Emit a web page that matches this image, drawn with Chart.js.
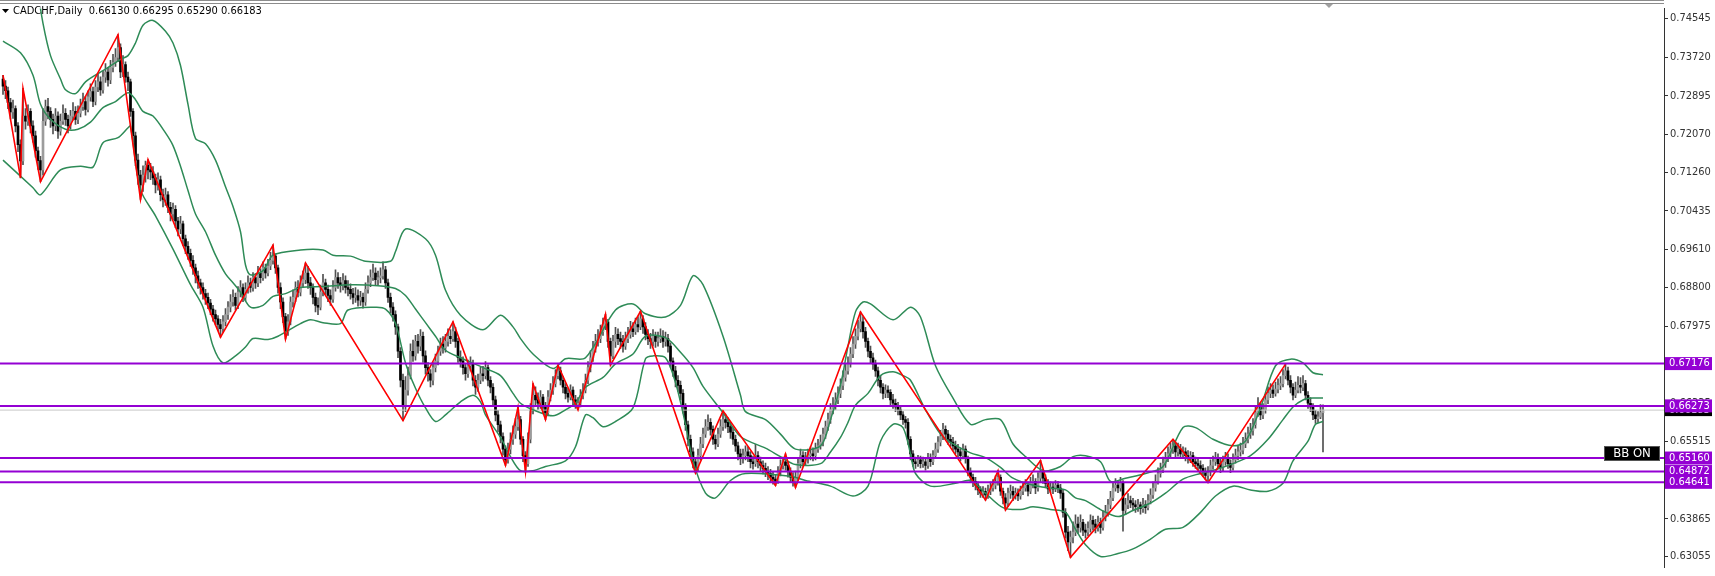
<!DOCTYPE html>
<html>
<head>
<meta charset="utf-8">
<script src="https://cdn.jsdelivr.net/npm/chart.js@4.4.1/dist/chart.umd.min.js"></script>
<style>
html, body { margin: 0; padding: 0; background: #fff; }
#wrap { width: 1715px; height: 576px; position: relative; }
</style>
</head>
<body>
<div id="wrap"><canvas id="chart"></canvas></div>
<script>
// CADCHF daily candles, prices in 1/10000 (bar 0 = leftmost)
const opens = [
  7325,7310,7300,7275,7255,7262,7225,7185,7150,7246, 7235,7256,7225,7204,7172,7151,7131,7235,7266,7256,
  7239,7225,7246,7214,7235,7252,7239,7225,7246,7256, 7239,7252,7266,7277,7260,7287,7298,7277,7308,7319,
  7302,7329,7340,7323,7350,7360,7371,7392,7340,7356, 7329,7319,7256,7204,7152,7120,7099,7120,7141,7131,
  7127,7114,7099,7110,7078,7068,7078,7051,7037,7047, 7022,7005,7016,6984,6968,6953,6938,6922,6905,6890,
  6880,6867,6859,6847,6834,6822,6813,6801,6792,6807, 6822,6838,6849,6859,6842,6870,6880,6859,6876,6890,
  6880,6901,6890,6911,6901,6922,6911,6926,6938,6947, 6922,6880,6849,6818,6786,6807,6849,6859,6880,6870,
  6890,6897,6911,6890,6880,6859,6842,6838,6870,6890, 6876,6863,6855,6880,6901,6890,6884,6895,6880,6876,
  6867,6859,6863,6853,6859,6849,6876,6890,6901,6911, 6897,6901,6905,6918,6890,6859,6838,6822,6796,6744,
  6682,6629,6661,6692,6744,6734,6765,6755,6776,6734, 6709,6696,6682,6709,6723,6744,6759,6751,6765,6776,
  6771,6786,6765,6730,6723,6709,6696,6713,6717,6682, 6667,6682,6696,6692,6709,6682,6667,6640,6608,6587,
  6562,6535,6512,6535,6556,6567,6583,6598,6556,6521, 6504,6556,6619,6650,6640,6633,6646,6625,6613,6646,
  6661,6675,6692,6702,6682,6667,6654,6646,6661,6640, 6629,6633,6650,6661,6682,6709,6730,6751,6765,6771,
  6786,6801,6807,6765,6734,6765,6780,6771,6765,6755, 6771,6780,6792,6786,6801,6796,6813,6796,6780,6771,
  6765,6776,6765,6771,6776,6765,6771,6755,6723,6702, 6682,6671,6654,6625,6587,6556,6529,6508,6494,6521,
  6546,6567,6583,6592,6577,6556,6546,6567,6583,6598, 6592,6583,6571,6556,6542,6525,6515,6521,6529,6521,
  6508,6504,6521,6508,6500,6494,6487,6483,6475,6471, 6466,6487,6500,6508,6500,6487,6475,6466,6475,6504,
  6521,6508,6515,6521,6525,6521,6535,6542,6550,6567, 6583,6598,6619,6629,6640,6654,6671,6688,6702,6717,
  6738,6759,6776,6792,6807,6786,6765,6744,6730,6717, 6702,6682,6667,6654,6661,6656,6640,6633,6625,6619,
  6608,6598,6592,6556,6525,6508,6504,6512,6504,6508, 6500,6515,6508,6521,6535,6550,6562,6577,6567,6556,
  6550,6542,6535,6529,6521,6535,6515,6487,6475,6466, 6458,6448,6441,6445,6437,6445,6452,6458,6466,6475,
  6445,6431,6420,6441,6445,6437,6441,6435,6445,6452, 6458,6445,6462,6466,6452,6473,6487,6473,6462,6450,
  6454,6450,6458,6452,6441,6400,6358,6337,6347,6358, 6375,6368,6379,6362,6358,6366,6383,6375,6368,6379,
  6368,6389,6400,6416,6431,6452,6458,6452,6462,6404, 6416,6425,6420,6416,6412,6416,6408,6416,6410,6425,
  6437,6452,6466,6483,6491,6504,6515,6525,6535,6542, 6529,6535,6525,6529,6521,6515,6521,6508,6504,6500,
  6494,6487,6479,6487,6500,6508,6515,6504,6496,6508, 6515,6504,6496,6512,6521,6529,6533,6546,6556,6567,
  6575,6587,6613,6625,6608,6619,6640,6654,6661,6654, 6663,6671,6675,6692,6702,6682,6667,6650,6661,6671,
  6667,6675,6650,6633,6625,6608,6600,6604,6613
];
const highs = [
  7333,7322,7308,7284,7280,7268,7232,7195,7305,7262, 7270,7262,7236,7214,7180,7160,7262,7280,7284,7264,
  7250,7262,7255,7250,7270,7262,7248,7258,7275,7266, 7268,7282,7295,7288,7300,7315,7308,7322,7335,7330,
  7342,7358,7350,7365,7378,7390,7420,7400,7375,7362, 7340,7325,7262,7212,7165,7130,7140,7150,7153,7145,
  7138,7122,7125,7118,7090,7092,7085,7062,7060,7055, 7030,7032,7022,6992,6978,6962,6948,6930,6915,6898,
  6890,6876,6868,6855,6842,6832,6820,6812,6820,6835, 6850,6865,6875,6868,6882,6895,6888,6890,6905,6900,
  6912,6910,6925,6920,6935,6930,6940,6955,6971,6952, 6928,6890,6858,6825,6822,6860,6875,6892,6895,6905,
  6915,6932,6925,6902,6888,6868,6858,6885,6908,6898, 6885,6875,6895,6918,6912,6902,6910,6905,6895,6888,
  6878,6880,6875,6872,6868,6890,6905,6918,6930,6922, 6915,6922,6935,6925,6898,6868,6848,6830,6802,6752,
  6695,6690,6710,6760,6768,6778,6780,6790,6785,6745, 6720,6705,6720,6738,6755,6772,6775,6780,6792,6790,
  6807,6795,6772,6745,6732,6718,6725,6732,6725,6692, 6695,6710,6712,6722,6715,6690,6675,6648,6618,6595,
  6570,6542,6548,6570,6585,6600,6625,6605,6562,6530, 6570,6632,6675,6668,6655,6660,6652,6635,6660,6675,
  6690,6705,6714,6710,6690,6675,6665,6672,6668,6650, 6645,6662,6675,6695,6722,6745,6765,6780,6790,6800,
  6815,6823,6812,6772,6778,6795,6792,6785,6778,6785, 6795,6808,6805,6815,6818,6829,6820,6805,6790,6782,
  6790,6785,6785,6792,6788,6785,6780,6762,6730,6712, 6692,6680,6662,6632,6595,6565,6538,6515,6535,6560,
  6580,6598,6608,6600,6585,6565,6580,6598,6617,6610, 6602,6592,6580,6565,6550,6535,6535,6542,6540,6530,
  6520,6545,6530,6518,6510,6505,6498,6492,6486,6480, 6498,6512,6518,6525,6508,6495,6485,6488,6515,6535,
  6530,6528,6535,6540,6538,6548,6556,6565,6580,6595, 6612,6632,6645,6655,6668,6685,6702,6718,6732,6752,
  6775,6792,6810,6828,6818,6795,6772,6755,6740,6725, 6710,6692,6675,6672,6670,6662,6652,6642,6635,6628,
  6615,6605,6600,6562,6532,6518,6522,6520,6518,6515, 6526,6525,6532,6548,6562,6575,6590,6585,6575,6565,
  6560,6552,6545,6538,6546,6542,6520,6495,6482,6475, 6465,6455,6455,6452,6458,6465,6470,6478,6489,6480,
  6452,6440,6452,6458,6455,6452,6450,6456,6462,6470, 6465,6475,6480,6472,6485,6511,6492,6480,6470,6465,
  6462,6468,6466,6460,6448,6408,6370,6360,6380,6395, 6390,6395,6385,6375,6380,6395,6392,6385,6392,6388,
  6402,6415,6428,6445,6465,6472,6468,6475,6468,6430, 6440,6435,6430,6425,6428,6422,6430,6425,6438,6450,
  6465,6480,6495,6505,6518,6528,6540,6548,6556,6550, 6548,6545,6540,6538,6532,6530,6528,6518,6515,6510,
  6502,6495,6498,6512,6520,6528,6525,6515,6520,6528, 6525,6512,6525,6535,6542,6548,6560,6570,6582,6590,
  6600,6628,6645,6635,6632,6652,6668,6675,6672,6678, 6685,6690,6705,6716,6710,6692,6675,6678,6690,6688,
  6692,6682,6658,6645,6632,6618,6615,6630,6629.5
];
const lows = [
  7292,7283,7262,7240,7241,7212,7170,7114,7142,7218, 7226,7210,7190,7158,7132,7106,7120,7226,7240,7222,
  7208,7215,7198,7205,7228,7226,7210,7218,7238,7228, 7230,7244,7258,7248,7255,7278,7266,7270,7298,7290,
  7295,7318,7310,7315,7340,7352,7362,7328,7330,7318, 7300,7245,7190,7140,7100,7068,7085,7105,7112,7110,
  7100,7082,7088,7065,7052,7055,7040,7022,7025,7008, 6990,6995,6970,6952,6940,6925,6908,6890,6878,6866,
  6855,6844,6835,6822,6808,6800,6788,6774,6784,6798, 6812,6828,6840,6832,6835,6860,6850,6852,6868,6870,
  6872,6878,6882,6890,6895,6900,6905,6918,6930,6910, 6868,6835,6805,6770,6778,6800,6838,6850,6860,6862,
  6880,6888,6878,6865,6845,6828,6822,6832,6862,6865, 6850,6842,6848,6872,6878,6870,6875,6868,6862,6855,
  6845,6848,6840,6842,6836,6842,6868,6882,6895,6885, 6886,6890,6898,6878,6848,6826,6808,6780,6730,6668,
  6596,6615,6650,6685,6722,6725,6740,6745,6720,6695, 6680,6668,6672,6700,6715,6735,6740,6742,6755,6760,
  6765,6752,6720,6710,6695,6682,6688,6702,6670,6652, 6658,6675,6680,6685,6670,6655,6628,6595,6572,6548,
  6522,6500,6505,6525,6545,6558,6575,6545,6508,6487, 6498,6548,6610,6628,6620,6622,6612,6598,6606,6638,
  6652,6668,6685,6672,6655,6642,6635,6640,6630,6622, 6619,6625,6642,6655,6675,6700,6722,6742,6755,6762,
  6778,6790,6752,6714,6728,6752,6758,6750,6742,6748, 6762,6772,6775,6780,6785,6790,6782,6768,6758,6750,
  6755,6752,6755,6762,6752,6755,6742,6710,6690,6668, 6658,6640,6612,6575,6542,6515,6495,6484,6488,6512,
  6538,6560,6575,6565,6545,6535,6540,6560,6575,6580, 6570,6558,6545,6530,6512,6502,6505,6512,6508,6495,
  6492,6498,6495,6488,6482,6476,6470,6464,6460,6457, 6462,6478,6492,6490,6475,6465,6456,6453,6468,6495,
  6498,6500,6505,6512,6510,6512,6528,6535,6542,6558, 6575,6590,6610,6620,6632,6645,6662,6680,6695,6710,
  6730,6750,6768,6785,6772,6752,6732,6718,6705,6690, 6670,6655,6642,6645,6645,6630,6622,6615,6608,6598,
  6588,6580,6545,6512,6498,6494,6498,6495,6496,6490, 6494,6498,6502,6515,6528,6542,6555,6555,6545,6540,
  6532,6525,6518,6510,6514,6505,6478,6465,6455,6448, 6438,6432,6432,6426,6430,6438,6445,6450,6458,6436,
  6418,6405,6412,6430,6425,6428,6425,6428,6438,6445, 6435,6440,6452,6440,6445,6465,6462,6452,6440,6442,
  6440,6444,6442,6430,6390,6345,6318,6304,6335,6350, 6355,6358,6350,6345,6350,6358,6362,6356,6360,6355,
  6362,6382,6392,6408,6425,6445,6442,6445,6360,6395, 6408,6410,6405,6400,6402,6396,6400,6398,6405,6418,
  6430,6445,6460,6475,6485,6496,6508,6518,6526,6518, 6520,6515,6515,6510,6505,6506,6498,6494,6490,6484,
  6476,6470,6464,6478,6492,6500,6495,6485,6488,6500, 6494,6485,6490,6505,6512,6520,6525,6538,6548,6558,
  6565,6580,6605,6598,6600,6612,6632,6645,6645,6648, 6655,6662,6668,6685,6672,6655,6640,6645,6655,6655,
  6660,6640,6622,6615,6598,6590,6592,6600,6529
];
const closes = [
  7310,7300,7275,7255,7262,7225,7185,7150,7246,7235, 7256,7225,7204,7172,7151,7131,7235,7266,7256,7239,
  7225,7246,7214,7235,7252,7239,7225,7246,7256,7239, 7252,7266,7277,7260,7287,7298,7277,7308,7319,7302,
  7329,7340,7323,7350,7360,7371,7392,7340,7356,7329, 7319,7256,7204,7152,7120,7099,7120,7141,7131,7127,
  7114,7099,7110,7078,7068,7078,7051,7037,7047,7022, 7005,7016,6984,6968,6953,6938,6922,6905,6890,6880,
  6867,6859,6847,6834,6822,6813,6801,6792,6807,6822, 6838,6849,6859,6842,6870,6880,6859,6876,6890,6880,
  6901,6890,6911,6901,6922,6911,6926,6938,6947,6922, 6880,6849,6818,6786,6807,6849,6859,6880,6870,6890,
  6897,6911,6890,6880,6859,6842,6838,6870,6890,6876, 6863,6855,6880,6901,6890,6884,6895,6880,6876,6867,
  6859,6863,6853,6859,6849,6876,6890,6901,6911,6897, 6901,6905,6918,6890,6859,6838,6822,6796,6744,6682,
  6629,6661,6692,6744,6734,6765,6755,6776,6734,6709, 6696,6682,6709,6723,6744,6759,6751,6765,6776,6771,
  6786,6765,6730,6723,6709,6696,6713,6717,6682,6667, 6682,6696,6692,6709,6682,6667,6640,6608,6587,6562,
  6535,6512,6535,6556,6567,6583,6598,6556,6521,6504, 6556,6619,6650,6640,6633,6646,6625,6613,6646,6661,
  6675,6692,6702,6682,6667,6654,6646,6661,6640,6629, 6633,6650,6661,6682,6709,6730,6751,6765,6771,6786,
  6801,6807,6765,6734,6765,6780,6771,6765,6755,6771, 6780,6792,6786,6801,6796,6813,6796,6780,6771,6765,
  6776,6765,6771,6776,6765,6771,6755,6723,6702,6682, 6671,6654,6625,6587,6556,6529,6508,6494,6521,6546,
  6567,6583,6592,6577,6556,6546,6567,6583,6598,6592, 6583,6571,6556,6542,6525,6515,6521,6529,6521,6508,
  6504,6521,6508,6500,6494,6487,6483,6475,6471,6466, 6487,6500,6508,6500,6487,6475,6466,6475,6504,6521,
  6508,6515,6521,6525,6521,6535,6542,6550,6567,6583, 6598,6619,6629,6640,6654,6671,6688,6702,6717,6738,
  6759,6776,6792,6807,6786,6765,6744,6730,6717,6702, 6682,6667,6654,6661,6656,6640,6633,6625,6619,6608,
  6598,6592,6556,6525,6508,6504,6512,6504,6508,6500, 6515,6508,6521,6535,6550,6562,6577,6567,6556,6550,
  6542,6535,6529,6521,6535,6515,6487,6475,6466,6458, 6448,6441,6445,6437,6445,6452,6458,6466,6475,6445,
  6431,6420,6441,6445,6437,6441,6435,6445,6452,6458, 6445,6462,6466,6452,6473,6487,6473,6462,6450,6454,
  6450,6458,6452,6441,6400,6358,6337,6347,6358,6375, 6368,6379,6362,6358,6366,6383,6375,6368,6379,6368,
  6389,6400,6416,6431,6452,6458,6452,6462,6404,6416, 6425,6420,6416,6412,6416,6408,6416,6410,6425,6437,
  6452,6466,6483,6491,6504,6515,6525,6535,6542,6529, 6535,6525,6529,6521,6515,6521,6508,6504,6500,6494,
  6487,6479,6487,6500,6508,6515,6504,6496,6508,6515, 6504,6496,6512,6521,6529,6533,6546,6556,6567,6575,
  6587,6613,6625,6608,6619,6640,6654,6661,6654,6663, 6671,6675,6692,6702,6682,6667,6650,6661,6671,6667,
  6675,6650,6633,6625,6608,6600,6604,6613,6618.3
];

// Bollinger bands (20, 2) read at selected bars
const bbUpperBars = [0,7,12,16,19,23,25,29,33,39, 41,47,50,53,56,60,65,68,71,74, 77,81,85,89,92,95,97,99,104,108,
  119,128,132,139,145,155,157,161,169,173, 177,183,192,199,204,207,212,220,225,233, 245,252,257,265,271,276,280,288,295,297,
  305,311,317,327,331,335,338,341,344,347, 356,363,367,373,380,387,393,399,404,409, 416,423,428,433,439,443,449,457,464,472,
  477,484,492,497,503,509,515,520,524,528];
const bbUpper = [7661,7653,7569,7444,7375,7325,7302,7294,7319,7340, 7346,7367,7375,7402,7440,7450,7427,7402,7354,7271,
  7198,7187,7152,7095,7053,6999,6928,6907,6916,6949, 6960,6960,6949,6947,6936,6936,6957,7005,6984,6949,
  6874,6821,6790,6821,6796,6771,6738,6707,6728,6730, 6832,6845,6824,6817,6842,6905,6886,6776,6650,6615,
  6598,6567,6535,6542,6598,6671,6755,6828,6849,6845, 6811,6838,6817,6713,6644,6588,6598,6598,6546,6519,
  6489,6498,6519,6521,6508,6466,6473,6483,6498,6581, 6581,6556,6542,6552,6623,6713,6727,6719,6698,6694];
const bbMiddleBars = [0,7,12,15,19,25,30,35,40,45, 50,53,56,60,65,68,71,74,77,81, 85,89,92,95,99,104,108,113,119,128,
  139,150,157,161,165,169,173,177,183,192, 199,204,207,212,220,225,229,233,240,245, 252,257,265,271,276,280,288,295,305,311,
  317,327,331,335,338,341,346,351,356,360, 363,369,375,380,387,393,399,404,412,419, 425,429,433,439,446,452,459,465,472,479,
  485,492,499,506,512,516,520,524,528];
const bbMiddle = [7406,7381,7333,7271,7239,7218,7218,7233,7264,7277, 7296,7281,7256,7246,7210,7183,7139,7087,7037,6999,
  6949,6909,6890,6870,6838,6842,6861,6867,6880,6882, 6886,6884,6878,6863,6834,6805,6776,6746,6730,6709,
  6692,6654,6633,6619,6606,6619,6633,6667,6688,6717, 6738,6776,6773,6742,6709,6669,6613,6562,6537,6519,
  6502,6504,6529,6560,6592,6629,6654,6692,6700,6692, 6682,6619,6567,6546,6527,6517,6496,6473,6458,6452,
  6448,6431,6425,6406,6391,6404,6420,6441,6471,6483, 6491,6504,6521,6556,6598,6625,6640,6644,6644];
const bbLowerBars = [0,12,15,23,31,36,40,46,50,51, 55,61,68,75,80,84,88,93,97,100, 106,110,119,123,128,135,138,149,153,157,
  161,165,169,173,177,183,188,191,193,199, 203,207,212,217,225,229,233,236,240,245, 252,257,260,265,269,273,276,281,285,291,
  297,315,321,331,340,346,351,356,360,363, 365,371,381,387,393,400,407,412,419,425, 429,433,439,446,452,459,465,472,479,485,
  492,499,506,512,516,522,525,528];
const bbLower = [7152,7093,7078,7131,7139,7137,7189,7200,7221,7225, 7089,7033,6962,6886,6838,6755,6719,6734,6753,6771,
  6769,6776,6803,6811,6805,6803,6832,6838,6834,6803, 6719,6665,6623,6594,6608,6636,6650,6636,6608,6560,
  6519,6489,6489,6498,6510,6540,6608,6602,6583,6594, 6623,6728,6734,6730,6677,6588,6510,6441,6431,6468,
  6483,6477,6468,6456,6435,6456,6552,6588,6581,6525, 6483,6456,6462,6468,6441,6410,6406,6412,6406,6400,
  6364,6331,6306,6312,6322,6343,6364,6368,6400,6435, 6456,6448,6445,6462,6510,6552,6588,6594];

// zigzag pivots (bar index, price)
const zzBars = [0, 7, 8, 15, 46, 55, 58, 87, 108, 113, 121, 160, 180, 201, 206, 209, 212, 217, 222, 230,
  241, 243, 255, 277, 288, 309, 313, 317, 343, 393, 398, 401, 415, 427, 468, 482, 513];
const zzPrices = [0.73333, 0.71140, 0.73047, 0.71062, 0.74196, 0.70680, 0.71530, 0.67741, 0.69705, 0.67699,
  0.69322, 0.65959, 0.68069, 0.65004, 0.66245, 0.64866, 0.66746, 0.65980, 0.67143, 0.66189,
  0.68230, 0.67143, 0.68292, 0.64841, 0.66168, 0.64574, 0.65249, 0.64532, 0.68278, 0.64260,
  0.64887, 0.64051, 0.65108, 0.63040, 0.65562, 0.64636, 0.67164];

// price axis labels (right side)
const tickValues = [0.74545, 0.73720, 0.72895, 0.72070, 0.71260, 0.70435, 0.69610, 0.68800,
  0.67975, 0.67150, 0.66335, 0.65515, 0.64690, 0.63865, 0.63055];

// horizontal levels
const levelValues = [0.67176, 0.66273, 0.65160, 0.64872, 0.64641];
const bidPrice = 0.66183;
const titleText = "CADCHF,Daily  0.66130 0.66295 0.65290 0.66183";

const xMin = -1.2, xMax = 664.4;
const yMin = 0.628253, yMax = 0.747539;

const toPrice = v => v / 10000;
const barIdx = closes.map((c, i) => i);
const bandLine = (bars, vals) => ({
  data: bars.map((b, i) => ({ x: b, y: toPrice(vals[i]) })),
  borderColor: "#2e8b57",
  borderWidth: 1.5,
  pointRadius: 0,
  tension: 0.3,
  order: 2
});

const levelSets = levelValues.map(v => ({
  data: [{ x: xMin, y: v }, { x: xMax, y: v }],
  borderColor: "#9400d3",
  borderWidth: 2,
  pointRadius: 0,
  order: 0
}));

const overlay = {
  id: "overlay",
  afterDraw(chart) {
    const c = chart.ctx;
    const ys = chart.scales.y;
    const area = chart.chartArea;
    c.save();
    // top frame
    c.fillStyle = "#8c8c8c";
    c.fillRect(0, 0, area.right, 1);
    c.fillRect(0, 3, area.right, 1);
    // shift marker
    c.fillStyle = "#a0a0a0";
    c.beginPath();
    c.moveTo(1325, 4); c.lineTo(1333, 4); c.lineTo(1329, 8); c.closePath(); c.fill();
    // title
    c.fillStyle = "#000";
    c.beginPath();
    c.moveTo(2, 9); c.lineTo(9, 9); c.lineTo(5.5, 13); c.closePath(); c.fill();
    c.font = "11px 'DejaVu Sans Condensed', 'Liberation Sans', sans-serif";
    c.textBaseline = "middle";
    c.fillText(titleText, 13, 11);

    // bid label
    let y = ys.getPixelForValue(bidPrice);
    c.fillStyle = "#000";
    c.fillRect(area.right + 1, y - 6, 47, 12);
    c.fillStyle = "#fff";
    c.fillText(bidPrice.toFixed(5), area.right + 5, y);
    // level labels
    levelValues.forEach(v => {
      const py = ys.getPixelForValue(v);
      c.fillStyle = "#9400d3";
      c.fillRect(area.right + 1, py - 6.5, 47, 13);
      c.fillStyle = "#fff";
      c.fillText(v.toFixed(5), area.right + 5, py);
    });
    // BB ON
    c.fillStyle = "#000";
    c.fillRect(1604, 446, 56, 15);
    c.strokeStyle = "#555";
    c.strokeRect(1604.5, 446.5, 55, 14);
    c.fillStyle = "#fff";
    c.font = "13px 'DejaVu Sans Condensed', 'Liberation Sans', sans-serif";
    c.textAlign = "center";
    c.fillText("BB ON", 1632, 454);
    c.restore();
  }
};

new Chart(document.getElementById("chart"), {
  type: "line",
  data: {
    datasets: [
      ...levelSets,
      {
        data: zzBars.map((b, i) => ({ x: b, y: zzPrices[i] })),
        borderColor: "#ff0000",
        borderWidth: 1.6,
        pointRadius: 0,
        order: 1
      },
      bandLine(bbUpperBars, bbUpper),
      bandLine(bbMiddleBars, bbMiddle),
      bandLine(bbLowerBars, bbLower),
      {
        data: [{ x: xMin, y: bidPrice }, { x: xMax, y: bidPrice }],
        borderColor: "#c8c8c8",
        borderWidth: 1,
        pointRadius: 0,
        order: 3
      },
      {
        type: "bar",
        data: barIdx.map(i => ({ x: i, y: [toPrice(opens[i]), toPrice(closes[i])] })),
        backgroundColor: barIdx.map(i => closes[i] >= opens[i] ? "#9c9c9c" : "#000000"),
        barThickness: 2,
        minBarLength: 1,
        grouped: false,
        order: 4
      },
      {
        type: "bar",
        data: barIdx.map(i => ({ x: i, y: [toPrice(lows[i]), toPrice(highs[i])] })),
        backgroundColor: "#505050",
        barThickness: 1,
        grouped: false,
        order: 5
      }
    ]
  },
  options: {
    responsive: true,
    maintainAspectRatio: false,
    animation: false,
    layout: { padding: { top: 5, left: 0, right: 0, bottom: 0 } },
    plugins: { legend: { display: false }, tooltip: { enabled: false } },
    scales: {
      x: { type: "linear", min: xMin, max: xMax, offset: false, grid: { offset: false }, display: false },
      y: {
        type: "linear",
        position: "right",
        min: yMin,
        max: yMax,
        afterBuildTicks: s => { s.ticks = tickValues.map(v => ({ value: v })); },
        afterFit: s => { s.width = 51; },
        grid: { drawOnChartArea: false, tickLength: 4, color: "#333" },
        border: { color: "#333" },
        ticks: {
          color: "#333",
          padding: 2,
          font: { family: "'DejaVu Sans Condensed', 'Liberation Sans', sans-serif", size: 11 },
          callback: v => v.toFixed(5)
        }
      }
    }
  },
  plugins: [overlay]
});
</script>
</body>
</html>
